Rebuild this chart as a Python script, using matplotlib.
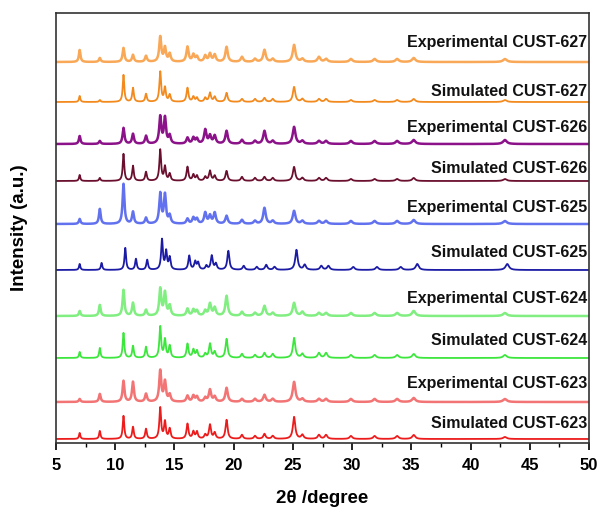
"""XRD patterns, simulated vs experimental CUST-623..627
"""
import numpy as np
import matplotlib
matplotlib.use('Agg')
import matplotlib.pyplot as plt
from matplotlib.ticker import MultipleLocator

plt.rcParams['font.family'] = ['Liberation Sans', 'DejaVu Sans']

# peak positions (2theta, deg)
peaks = [7.0, 8.7, 10.7, 11.5, 12.6, 13.8, 14.2, 14.6, 16.1, 16.6, 16.9, 17.6,
         18.0, 18.4, 19.4, 20.7, 21.8, 22.6, 23.3, 25.1, 25.8, 27.2, 27.8,
         29.9, 31.9, 33.8, 35.2, 42.9]
# simulated CUST-625 is shifted a little to higher angle
peaks_625 = [7.0, 8.85, 10.85, 11.75, 12.7, 13.95, 14.3, 14.6, 16.25, 16.75,
             17.0, 17.7, 18.15, 18.5, 19.55, 20.85, 21.95, 22.75, 23.45, 25.3,
             26.0, 27.4, 28.0, 30.1, 32.1, 34.1, 35.5, 43.1]

# peak heights (a.u.) for each pattern
sim_623 = [6, 8, 23, 12, 10, 31, 17, 10, 15, 7, 7, 4, 14, 6, 19, 4, 3, 5, 3, 22, 4, 4, 4, 3, 3, 3, 4, 2]
exp_623 = [3, 8, 21, 20, 8, 31, 20, 7, 6, 6, 5, 4, 12, 5, 14, 3, 3, 7, 3, 20, 3, 3, 3, 3, 3, 3, 4, 3]
sim_624 = [6, 10, 25, 12, 11, 31, 18, 12, 14, 8, 7, 4, 14, 6, 19, 4, 3, 5, 4, 20, 4, 5, 5, 3, 3, 3, 4, 3]
exp_624 = [5, 11, 26, 13, 6, 27, 23, 10, 7, 6, 5, 5, 12, 8, 20, 4, 3, 10, 3, 13, 4, 3, 3, 3, 3, 3, 5, 3]
sim_625 = [6, 7, 22, 11, 10, 30, 18, 12, 14, 8, 7, 4, 14, 6, 19, 4, 3, 5, 3, 20, 5, 4, 4, 3, 3, 3, 6, 6]
exp_625 = [5, 15, 40, 12, 6, 30, 29, 8, 5, 6, 5, 11, 8, 11, 8, 4, 3, 16, 3, 13, 3, 3, 3, 3, 3, 3, 4, 3]
sim_626 = [6, 3, 27, 15, 9, 31, 14, 7, 14, 6, 5, 4, 10, 5, 10, 4, 3, 4, 3, 14, 3, 3, 3, 2, 2, 2, 3, 2]
exp_626 = [8, 3, 16, 10, 8, 27, 26, 8, 6, 6, 5, 14, 8, 8, 13, 4, 3, 13, 3, 17, 3, 3, 3, 3, 3, 3, 4, 4]
sim_627 = [6, 2, 27, 14, 8, 30, 14, 7, 14, 5, 4, 4, 9, 5, 9, 3, 3, 4, 3, 15, 3, 3, 3, 2, 2, 2, 3, 2]
exp_627 = [12, 4, 14, 7, 6, 25, 14, 8, 15, 7, 5, 6, 8, 7, 15, 5, 3, 12, 3, 17, 3, 5, 3, 3, 3, 3, 4, 3]

labels = ['Simulated CUST-623', 'Experimental CUST-623',
          'Simulated CUST-624', 'Experimental CUST-624',
          'Simulated CUST-625', 'Experimental CUST-625',
          'Simulated CUST-626', 'Experimental CUST-626',
          'Simulated CUST-627', 'Experimental CUST-627']
heights = [sim_623, exp_623, sim_624, exp_624, sim_625, exp_625,
           sim_626, exp_626, sim_627, exp_627]
positions = [peaks, peaks, peaks, peaks, peaks_625, peaks,
             peaks, peaks, peaks, peaks]
offsets = [4, 41, 85, 127, 173, 219, 262, 299, 341, 381]
label_y = [15, 55, 98, 140, 186, 231, 270, 311, 347, 396]
colors = ['#EC1C1C', '#F27474', '#3DE63D', '#80EE80', '#1B1BA5',
          '#6272EE', '#6A0F2E', '#8B1289', '#F28A1E', '#F9A857']


def pattern(x, pos, hts, w0):
    y = np.zeros_like(x)
    for p, h in zip(pos, hts):
        w = w0 + 0.003 * (p - 5)
        y += h * w ** 2 / ((x - p) ** 2 + w ** 2)
    return y


x = np.linspace(5, 50, 4500)

fig = plt.figure(figsize=(6, 5.16), dpi=100)
ax = fig.add_axes([0.0933, 0.1415, 0.8884, 0.8333])

for i in range(len(labels)):
    is_exp = labels[i].startswith('Exp')
    y = pattern(x, positions[i], heights[i], 0.075 if is_exp else 0.06)
    ax.plot(x, y + offsets[i], color=colors[i], lw=1.8 if is_exp else 1.3)
    ax.text(49.85, label_y[i], labels[i], ha='right', va='baseline',
            fontsize=11.5, fontweight='bold', color='#111111')

ax.set_xlim(5, 50)
ax.set_ylim(0, 430)
ax.xaxis.set_major_locator(MultipleLocator(5))
ax.xaxis.set_minor_locator(MultipleLocator(2.5))
ax.tick_params(axis='x', which='major', direction='out', length=5, width=1.2,
               labelsize=12, pad=6)
ax.tick_params(axis='x', which='minor', direction='out', length=3, width=1.0)
ax.set_yticks([])
for lab in ax.get_xticklabels():
    lab.set_fontweight('bold')
for sp in ax.spines.values():
    sp.set_linewidth(1.2)
    sp.set_color('#333333')

ax.set_xlabel('2\u03b8 /degree', fontsize=13.5, fontweight='bold', labelpad=12)
ax.set_ylabel('Intensity (a.u.)', fontsize=13.5, fontweight='bold', labelpad=20)

fig.savefig('out.png', dpi=100)
